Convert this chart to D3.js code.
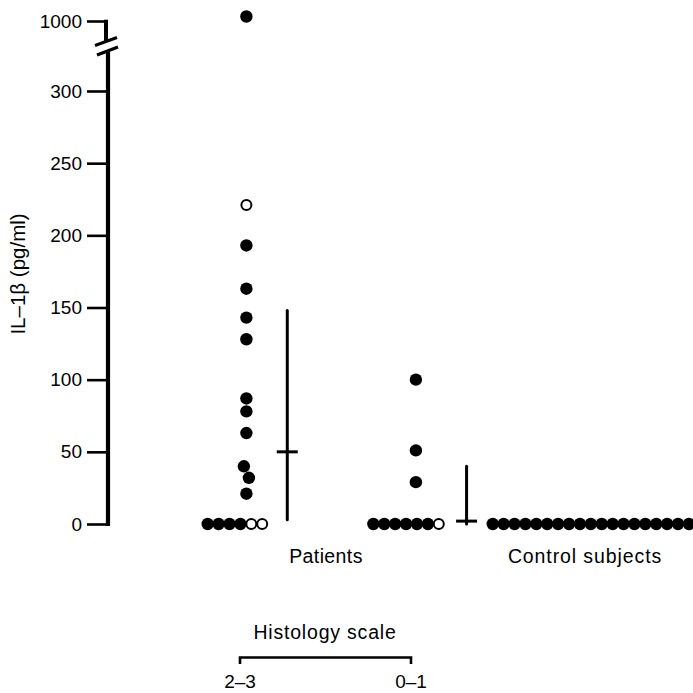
<!DOCTYPE html>
<html>
<head>
<meta charset="utf-8">
<script src="https://cdn.jsdelivr.net/npm/d3@7"></script>
<style>
  html, body { margin: 0; padding: 0; background: #fff; }
  text { font-family: "Liberation Sans", Arial, Helvetica, sans-serif; fill: #000; }
</style>
</head>
<body>
<svg id="chart" width="693" height="693"></svg>
<script>
// ---------------- data ----------------
const groupNames = ["Patients 2–3", "Patients 0–1", "Control subjects"];
// IL-1β values (pg/ml), filled = detected, open = second marker type
const g1Filled = [1015, 193, 163, 143, 128, 87, 78, 63, 40, 32, 21, 0, 0, 0, 0];
const g1Open = [221, 0, 0];
const g2Filled = [100, 51, 29, 0, 0, 0, 0, 0, 0];
const g2Open = [0];
const controlFilled = [0, 0, 0, 0, 0, 0, 0, 0, 0, 0, 0, 0, 0, 0, 0, 0, 0, 0, 0];
const controlOpen = [];
// summary bars (patients groups only)
const summaryCentre = [50, 2];
const summaryLow = [3, 0];
const summaryHigh = [148, 40];
// axis ticks
const yTicksLow = [0, 50, 100, 150, 200, 250, 300];
const yTicksHigh = [1000];
const groupLabels = ["Patients", "Control subjects"];
const scaleLabels = ["2–3", "0–1"];

// ---------------- layout ----------------
const svg = d3.select("#chart");
const axisX = 108;
const yLow = d3.scaleLinear().domain([0, 300]).range([524, 91]);
const yHigh = d3.scaleLinear().domain([1000, 1100]).range([21, -9]);
const yVal = v => v >= 1000 ? yHigh(v) : yLow(v);

// horizontal slot scale: one slot = one dot width
const xs = d3.scaleLinear().domain([0, 1]).range([207.7, 218.6]);
const groupLayout = [
  { rowStart: 0, column: 3.55, bar: 7.3 },
  { rowStart: 15.2, column: 19.1, bar: 23.75 },
  { rowStart: 26.15, column: null, bar: null }
];
const groupData = [
  { filled: g1Filled, open: g1Open },
  { filled: g2Filled, open: g2Open },
  { filled: controlFilled, open: controlOpen }
];

const R = 6.2;
const dots = [];
groupData.forEach((g, gi) => {
  const L = groupLayout[gi];
  const zeros = g.filled.filter(v => v === 0).map(v => ({ v, open: false }))
    .concat(g.open.filter(v => v === 0).map(v => ({ v, open: true })));
  zeros.forEach((d, i) => dots.push({ x: xs(L.rowStart + i), y: yVal(0), open: d.open }));
  const nz = g.filled.filter(v => v > 0).map(v => ({ v, open: false }))
    .concat(g.open.filter(v => v > 0).map(v => ({ v, open: true })))
    .sort((a, b) => b.v - a.v);
  let prev = null;
  nz.forEach(d => {
    const p = { x: xs(L.column), y: yVal(d.v), open: d.open };
    if (prev && Math.abs(p.y - prev.y) < 12) { prev.x -= 2.5; p.x += 2.5; }
    dots.push(p);
    prev = p;
  });
});

// ---------------- axis ----------------
const axLow = d3.axisLeft(yLow).tickValues(yTicksLow).tickSize(21).tickPadding(5).tickFormat(d3.format("d"));
const axHigh = d3.axisLeft(yHigh).tickValues(yTicksHigh).tickSize(21).tickPadding(5).tickFormat(d3.format("d"));
[axLow, axHigh].forEach(ax => {
  const g = svg.append("g").attr("transform", `translate(${axisX},0)`).call(ax);
  g.select(".domain").remove();
  g.selectAll(".tick line").attr("stroke", "#000").attr("stroke-width", 2.6);
  g.selectAll(".tick text").style("font-size", "19px").attr("fill", "#000");
});
// broken axis line
svg.append("line").attr("x1", axisX - 2).attr("x2", axisX - 2)
  .attr("y1", yHigh(1000) - 1.3).attr("y2", 42).attr("stroke", "#000").attr("stroke-width", 4);
svg.append("line").attr("x1", axisX).attr("x2", axisX)
  .attr("y1", 51).attr("y2", yLow(0) + 2).attr("stroke", "#000").attr("stroke-width", 4.2);
svg.append("line").attr("x1", 95).attr("y1", 45.5).attr("x2", 117).attr("y2", 37.5)
  .attr("stroke", "#000").attr("stroke-width", 3);
svg.append("line").attr("x1", 97).attr("y1", 55).attr("x2", 118).attr("y2", 47)
  .attr("stroke", "#000").attr("stroke-width", 3);

svg.append("text")
  .attr("transform", `translate(25,274) rotate(-90)`)
  .attr("text-anchor", "middle")
  .style("font-size", "20.5px")
  .text("IL–1β (pg/ml)");

// ---------------- summary bars ----------------
summaryCentre.forEach((c, i) => {
  const bx = xs(groupLayout[i].bar);
  svg.append("line").attr("x1", bx).attr("x2", bx)
    .attr("y1", yVal(summaryHigh[i])).attr("y2", yVal(summaryLow[i]))
    .attr("stroke", "#000").attr("stroke-width", 3).attr("stroke-linecap", "round");
  svg.append("line").attr("x1", bx - 10.5).attr("x2", bx + 10.5)
    .attr("y1", yVal(c)).attr("y2", yVal(c))
    .attr("stroke", "#000").attr("stroke-width", 3);
});

// ---------------- dots ----------------
svg.append("g").selectAll("circle").data(dots).join("circle")
  .attr("cx", d => d.x).attr("cy", d => d.y)
  .attr("r", d => d.open ? R - 1.2 : R)
  .attr("fill", d => d.open ? "#fff" : "#000")
  .attr("stroke", "#000")
  .attr("stroke-width", d => d.open ? 2 : 0);

// ---------------- group labels ----------------
svg.append("text").attr("x", 326).attr("y", 563).attr("text-anchor", "middle")
  .style("font-size", "19.5px").style("letter-spacing", "0.4px").text(groupLabels[0]);
svg.append("text").attr("x", 585).attr("y", 563).attr("text-anchor", "middle")
  .style("font-size", "19.5px").style("letter-spacing", "0.9px").text(groupLabels[1]);

// ---------------- histology scale key ----------------
const xKey = d3.scalePoint().domain(scaleLabels).range([240, 411]);
svg.append("text").attr("x", 325).attr("y", 639).attr("text-anchor", "middle")
  .style("font-size", "19.5px").style("letter-spacing", "0.8px").text("Histology scale");
svg.append("path")
  .attr("d", `M${xKey(scaleLabels[0])},664 V657.5 H${xKey(scaleLabels[1])} V664`)
  .attr("fill", "none").attr("stroke", "#000").attr("stroke-width", 2.6);
svg.append("g").selectAll("text").data(scaleLabels).join("text")
  .attr("x", d => xKey(d)).attr("y", 688).attr("text-anchor", "middle")
  .style("font-size", "19px").text(d => d);
</script>
</body>
</html>
